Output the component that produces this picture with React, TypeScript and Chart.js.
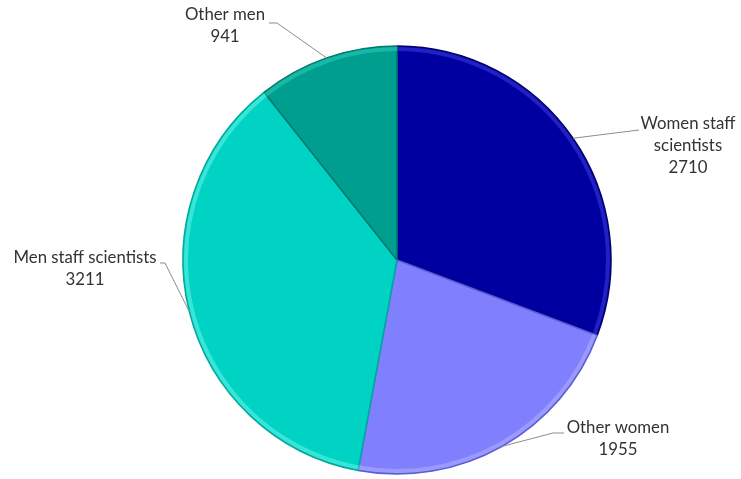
import React, { useEffect, useRef } from "react";
import { Chart, registerables } from "chart.js";

Chart.register(...registerables);

const categories = ["Women staff scientists", "Other women", "Men staff scientists", "Other men"];
const values = [2710, 1955, 3211, 941];
const labelText = [["Women staff", "scientists"], ["Other women"], ["Men staff scientists"], ["Other men"]];
const colors = ["#0000A0", "#8080FF", "#00D3C3", "#009E8F"];
const edgeColors = ["#00006A", "#5C5CD0", "#00A89A", "#007A6E"];
const rimColors = ["rgba(70,70,240,0.45)", "rgba(180,180,255,0.5)", "rgba(110,250,240,0.5)", "rgba(50,210,190,0.5)"];

// label layout relative to pie centre (tx,ty = text centre / first line; sx,sy = leader start; ex,ey = elbow)
const labelLayout = [
  { tx: 291, ty: -136, sx: 242, sy: -130, ex: 242, ey: -130 },
  { tx: 221, ty: 168, sx: 167, sy: 173, ex: 156, ey: 173 },
  { tx: -312, ty: -2, sx: -237, sy: 3, ex: -232, ey: 3 },
  { tx: -172, ty: -245, sx: -128, sy: -237, ex: -120, ey: -237 },
];

const FONT = "16.8px Lato, 'Open Sans', sans-serif";
const LINE_H = 22;

const labelPlugin = {
  id: "labelPlugin",
  afterDatasetsDraw(chart: any) {
    const ctx = chart.ctx;
    const meta = chart.getDatasetMeta(0);
    meta.data.forEach((arc: any, i: number) => {
      const { x, y, startAngle, endAngle, outerRadius } = arc.getProps(["x", "y", "startAngle", "endAngle", "outerRadius"], true);
      // bevel rim
      ctx.save();
      ctx.beginPath();
      ctx.moveTo(x, y);
      ctx.arc(x, y, outerRadius, startAngle, endAngle);
      ctx.closePath();
      ctx.clip();
      ctx.beginPath();
      ctx.arc(x, y, outerRadius - 3, startAngle, endAngle);
      ctx.lineWidth = 4;
      ctx.strokeStyle = rimColors[i];
      ctx.stroke();
      ctx.restore();

      const mid = (startAngle + endAngle) / 2;
      const px = x + Math.cos(mid) * outerRadius;
      const py = y + Math.sin(mid) * outerRadius;
      const L = labelLayout[i];
      ctx.save();
      ctx.strokeStyle = "#8C8C8C";
      ctx.lineWidth = 1;
      ctx.beginPath();
      ctx.moveTo(x + L.sx, y + L.sy);
      ctx.lineTo(x + L.ex, y + L.ey);
      ctx.lineTo(px, py);
      ctx.stroke();
      ctx.fillStyle = "#333333";
      ctx.font = FONT;
      ctx.textAlign = "center";
      ctx.textBaseline = "middle";
      const lines = [...labelText[i], String(values[i])];
      lines.forEach((t, k) => ctx.fillText(t, x + L.tx, y + L.ty + k * LINE_H));
      ctx.restore();
    });
  },
};

export default function App() {
  const ref = useRef<HTMLCanvasElement>(null);
  useEffect(() => {
    if (!ref.current) return;
    const chart = new Chart(ref.current, {
      type: "pie",
      data: {
        labels: categories,
        datasets: [
          {
            data: values,
            backgroundColor: colors,
            borderColor: edgeColors,
            borderWidth: 1.5,
            radius: 214,
          } as any,
        ],
      },
      options: {
        animation: false,
        responsive: false,
        layout: { padding: { left: 53, top: 41, right: 0, bottom: 0 } },
        plugins: { legend: { display: false }, tooltip: { enabled: false } },
      },
      plugins: [labelPlugin],
    });
    return () => chart.destroy();
  }, []);
  return (
    <div style={{ position: "fixed", left: 0, top: 0, width: 741, height: 479, background: "#fff" }}>
      <canvas ref={ref} width={741} height={479} />
    </div>
  );
}
